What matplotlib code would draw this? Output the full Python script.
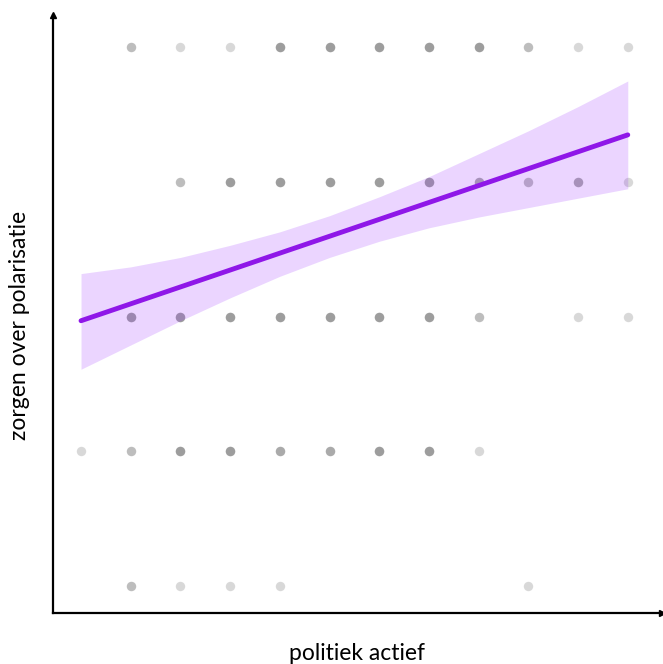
import matplotlib.pyplot as plt
import numpy as np

# answers per cell: x = politiek actief (0..11), y = zorgen over polarisatie (1..5)
pt_x = [1, 2, 3, 4, 5, 6, 7, 8, 9, 10, 11,
        2, 3, 4, 5, 6, 7, 8, 9, 10, 11,
        1, 2, 3, 4, 5, 6, 7, 8, 10, 11,
        0, 1, 2, 3, 4, 5, 6, 7, 8,
        1, 2, 3, 4, 9]
pt_y = [5] * 11 + [4] * 10 + [3] * 10 + [2] * 9 + [1] * 5
pt_n = [2, 1, 1, 4, 4, 4, 4, 4, 2, 1, 1,
        2, 4, 4, 4, 4, 4, 3, 2, 3, 1,
        4, 4, 4, 4, 4, 4, 4, 2, 1, 1,
        1, 2, 4, 4, 3, 3, 4, 4, 1,
        2, 1, 1, 1, 1]

# regression line and confidence band
fit_x = [0, 11]
fit_y = [2.97, 4.35]
band_x = [0, 1, 2, 3, 4, 5, 6, 7, 8, 9, 10, 11]
band_lo = [2.61, 2.79, 2.97, 3.14, 3.30, 3.44, 3.56, 3.66, 3.74, 3.81, 3.88, 3.95]
band_hi = [3.32, 3.37, 3.44, 3.53, 3.63, 3.75, 3.89, 4.04, 4.21, 4.38, 4.56, 4.75]

fig = plt.figure(figsize=(6.63, 6.64), dpi=100)
ax = fig.add_axes([0.080, 0.0768, 0.9186, 0.9006])

xs = np.repeat(pt_x, pt_n)
ys = np.repeat(pt_y, pt_n)
ax.scatter(xs, ys, s=46, color="#808080", alpha=0.3, linewidths=0, zorder=1)

ax.fill_between(band_x, band_lo, band_hi, color="#9b30ff", alpha=0.2, linewidth=0, zorder=2)
ax.plot(fit_x, fit_y, color="#8f17e8", linewidth=3.5, solid_capstyle="round", zorder=3)

ax.set_xlim(-0.563, 11.69)
ax.set_ylim(0.80, 5.24)
ax.set_xticks([])
ax.set_yticks([])
for side in ["top", "right"]:
    ax.spines[side].set_visible(False)
for side in ["left", "bottom"]:
    ax.spines[side].set_linewidth(1.6)
    ax.spines[side].set_color("black")

# arrow heads at the axis ends
ax.plot(0, 1, marker="^", markersize=5, color="black", transform=ax.transAxes, clip_on=False)
ax.plot(1, 0, marker=">", markersize=5, color="black", transform=ax.transAxes, clip_on=False)

fig.text(357 / 663, 1 - 653 / 664, "politiek actief", ha="center", va="center",
         fontsize=16.5, family="Lato")
fig.text(20 / 663, 1 - 325 / 664, "zorgen over polarisatie", ha="center", va="center",
         rotation=90, fontsize=16.5, family="Lato")

fig.savefig("out.png", dpi=100)
